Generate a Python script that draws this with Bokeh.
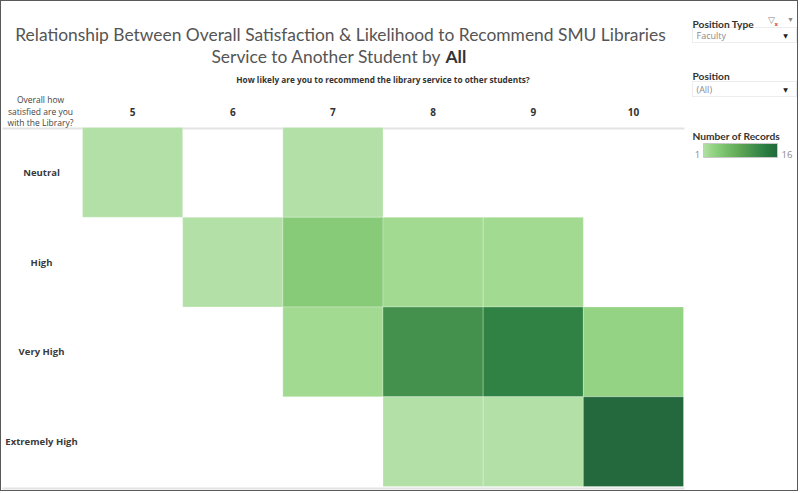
import numpy as np
from bokeh.plotting import figure
from bokeh.models import (ColumnDataSource, LinearColorMapper, ColorBar, Label,
                          BoxAnnotation, FixedTicker, Range1d)
from bokeh.transform import transform
from bokeh.embed import file_html
from bokeh.resources import INLINE

# ---------------- data ----------------
recommend_levels = ["5", "6", "7", "8", "9", "10"]
satisfaction_levels = ["Neutral", "High", "Very High", "Extremely High"]

cell_satisfaction = ["Neutral", "Neutral",
                     "High", "High", "High", "High",
                     "Very High", "Very High", "Very High", "Very High",
                     "Extremely High", "Extremely High", "Extremely High"]
cell_recommend = ["5", "7",
                  "6", "7", "8", "9",
                  "7", "8", "9", "10",
                  "8", "9", "10"]
cell_records = [1, 1,
                1, 4, 2, 2,
                2, 11, 13, 3,
                1, 1, 16]
records_low, records_high = 1, 16

title_line1 = "Relationship Between Overall Satisfaction & Likelihood to Recommend SMU Libraries"
title_line2 = "Service to Another Student by"
title_bold = "All"
col_header = "How likely are you to recommend the library service to other students?"
row_header = ["Overall how", "satisfied are you", "with the Library?"]

# Tableau "Green" sequential ramp
green_stops = ["#b3e0a6", "#a5db96", "#98d687", "#8ed07f", "#85ca77", "#7dc370",
               "#75bc69", "#6eb663", "#67af5c", "#61a956", "#59a253", "#519c51",
               "#49964f", "#428f4d", "#398949", "#308344", "#2b7c40", "#27763d",
               "#256f3d", "#24693d"]


def ramp(stops, n=256):
    rgb = np.array([[int(s[i:i + 2], 16) for i in (1, 3, 5)] for s in stops], float)
    pos = np.linspace(0, 1, len(stops))
    t = np.linspace(0, 1, n)
    out = np.stack([np.interp(t, pos, rgb[:, k]) for k in range(3)], axis=1)
    return ["#%02x%02x%02x" % tuple(int(round(v)) for v in row) for row in out]


palette = ramp(green_stops)

# ---------------- layout (canvas pixels) ----------------
W, H = 798, 491
GL, GT, GR, GB = 81, 126, 682, 485          # heat-map grid box
COLW = (GR - GL) / len(recommend_levels)
ROWH = (GB - GT) / len(satisfaction_levels)
y_factors = list(reversed(satisfaction_levels))   # bottom -> top

x0 = -0.5 - GL / COLW
y0 = -0.5 - (H - GB) / ROWH

src = ColumnDataSource(dict(
    x=[recommend_levels.index(r) for r in cell_recommend],
    y=[y_factors.index(s) for s in cell_satisfaction],
    n=cell_records))
mapper = LinearColorMapper(palette=palette, low=records_low, high=records_high)

p = figure(width=W, height=H,
           x_range=Range1d(x0, x0 + W / COLW), y_range=Range1d(y0, y0 + H / ROWH),
           output_backend="svg", toolbar_location=None, min_border=0,
           outline_line_color=None, title=None)
p.styles = {"border": "1px solid #5a5a5a"}
p.axis.visible = False
p.grid.visible = False


def box(left, right, top, bottom, fill, line=None):
    p.add_layout(BoxAnnotation(left=left, right=right, top=top, bottom=bottom,
                               left_units="canvas", right_units="canvas",
                               top_units="canvas", bottom_units="canvas",
                               fill_color=fill, fill_alpha=1, line_color=line,
                               line_width=1, level="underlay"))


# light header / footer rules
box(0, GR, GT - 1, GT + 1, "#e3e3e3")
box(0, GR, GB, GB + 2, "#e3e3e3")

p.rect(x="x", y="y", width=1, height=1, source=src,
       fill_color=transform("n", mapper), line_color="white", line_alpha=0.25,
       line_width=1)


def txt(x, y, text, size="10px", bold=False, color="#333333", align="left",
        baseline="alphabetic", x_units="canvas", y_units="canvas",
        font="Open Sans", **kw):
    lab = Label(x=x, y=y, x_units=x_units, y_units=y_units, text=text,
                text_font=font, text_font_size=size,
                text_font_style="bold" if bold else "normal",
                text_color=color, text_align=align, text_baseline=baseline, **kw)
    p.add_layout(lab)
    return lab


# title
txt(338, 32, title_line1, size="17.4px", color="#555555", align="center", font="Lato")
txt(439, 54, title_line2, size="17.4px", color="#555555", align="right", font="Lato")
txt(443, 54, title_bold, size="17.4px", color="#333333", bold=True, font="Lato")

# column header + column labels
txt((len(recommend_levels) - 1) / 2, 77, col_header, size="8.25px", bold=True,
    align="center", x_units="data")
for i, r in enumerate(recommend_levels):
    txt(i, 109, r, size="10px", bold=True, align="center", x_units="data")

# row header + row labels
for k, line in enumerate(row_header):
    txt(38, 97 + 11.5 * k, line, size="8.5px", color="#444444", align="center")
for j, s in enumerate(y_factors):
    txt(39, j, s, size="9.5px", bold=True, color="#3a3a3a", align="center",
        baseline="middle", y_units="data")

# right-hand filter panel
box(690, 794, 25, 40, "white", "#c4c4c4")
box(690, 794, 79, 94, "white", "#c4c4c4")
txt(690, 21, "Position Type", size="10.2px", bold=True, font="Lato")
txt(769, 17, "▽", size="9px", color="#888888", align="center",
    baseline="middle", font="DejaVu Sans")
txt(772, 21, "x", size="6px", color="#e0443a", bold=True)
txt(788, 17, "▾", size="8px", color="#888888", align="center",
    baseline="middle", font="DejaVu Sans")
for top, bottom, label in [(25, 40, "Faculty"), (79, 94, "(All)")]:
    txt(694, (top + bottom) / 2, label, size="9px", color="#8a8a8a",
        baseline="middle")
    txt(783, (top + bottom) / 2, "▼", size="6px", color="#222222",
        align="center", baseline="middle", font="DejaVu Sans")
txt(690, 73, "Position", size="10.2px", bold=True, font="Lato")
txt(690, 133, "Number of Records", size="10.2px", bold=True, font="Lato")
txt(695, 152, str(records_low), size="9.5px", color="#8a8a8a", align="center")
txt(779, 152, str(records_high), size="9.5px", color="#8a8a8a")

cb = ColorBar(color_mapper=mapper, orientation="horizontal", location=(702, H - 156),
              width=74, height=14, padding=0, ticker=FixedTicker(ticks=[]),
              major_tick_line_color=None, major_label_text_font_size="0px",
              label_standoff=0, bar_line_color="#c8c8c8",
              background_fill_alpha=0, border_line_color=None)
p.add_layout(cb)

open("out.html", "w").write(file_html(p, INLINE))
